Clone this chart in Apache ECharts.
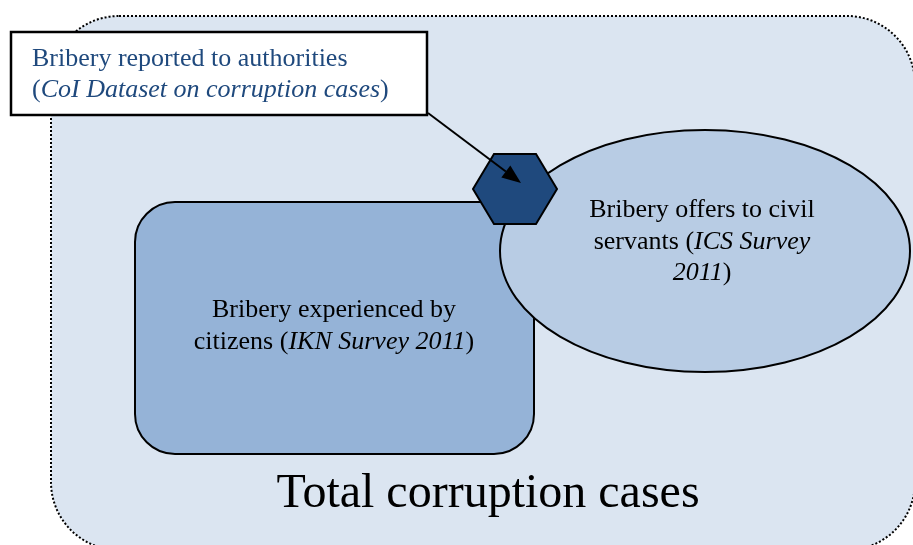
<!DOCTYPE html>
<html>
  <head>
    <meta charset="utf-8" />
    <title>Bribery measures</title>
    <script src="https://cdn.jsdelivr.net/npm/echarts@6.0.0/dist/echarts.min.js"></script>
  </head>
  <body style="margin:0">
    <div id="main" style="width: 913px;height:545px;"></div>
    <script type="text/javascript">
// labels of the diagram ({i|...} = italic part)
const totalLabel = ['Total corruption cases'];
const reportedLabel = ['Bribery reported to authorities', '({i|CoI Dataset on corruption cases})'];
const citizensLabel = ['Bribery experienced by', 'citizens ({i|IKN Survey 2011})'];
const servantsLabel = ['Bribery offers to civil', 'servants ({i|ICS Survey}', '{i|2011})'];

var chartDom = document.getElementById('main');
var myChart = echarts.init(chartDom);
var option;

var serif = '"Liberation Serif", "Times New Roman", serif';
var darkBlue = '#1f497d';

// hexagon
var hex = { cx: 515, cy: 189, rx: 42, ry: 35 };
var hexPts = [
  [hex.cx - hex.rx / 2, hex.cy - hex.ry],
  [hex.cx + hex.rx / 2, hex.cy - hex.ry],
  [hex.cx + hex.rx, hex.cy],
  [hex.cx + hex.rx / 2, hex.cy + hex.ry],
  [hex.cx - hex.rx / 2, hex.cy + hex.ry],
  [hex.cx - hex.rx, hex.cy]
];

// arrow from the text box to the hexagon
var from = [428, 113], tip = [521, 183];
var dx = tip[0] - from[0], dy = tip[1] - from[1];
var len = Math.sqrt(dx * dx + dy * dy);
var ux = dx / len, uy = dy / len;
var headLen = 19, headW = 7.5;
var bx = tip[0] - ux * headLen, by = tip[1] - uy * headLen;
var headPts = [
  tip,
  [bx - uy * headW, by + ux * headW],
  [bx + uy * headW, by - ux * headW]
];

function lines(arr) { return arr.join('\n'); }

option = {
  backgroundColor: '#ffffff',
  graphic: [
    {
      type: 'rect',
      shape: { x: 51, y: 16, width: 864, height: 534, r: 68 },
      style: { fill: '#dbe5f1', stroke: '#000', lineWidth: 2, lineDash: [2, 2] }
    },
    {
      type: 'rect',
      shape: { x: 135, y: 202, width: 399, height: 252, r: 40 },
      style: { fill: '#95b3d7', stroke: '#000', lineWidth: 2 }
    },
    {
      type: 'ellipse',
      shape: { cx: 705, cy: 251, rx: 205, ry: 121 },
      style: { fill: '#b8cce4', stroke: '#000', lineWidth: 2 }
    },
    {
      type: 'polygon',
      shape: { points: hexPts },
      style: { fill: darkBlue, stroke: '#000', lineWidth: 2 }
    },
    {
      type: 'rect',
      shape: { x: 11, y: 32, width: 416, height: 83 },
      style: { fill: '#fff', stroke: '#000', lineWidth: 2.5 }
    },
    {
      type: 'line',
      shape: { x1: from[0], y1: from[1], x2: bx, y2: by },
      style: { stroke: '#000', lineWidth: 2 }
    },
    {
      type: 'polygon',
      shape: { points: headPts },
      style: { fill: '#000' }
    },
    {
      type: 'text',
      x: 32, y: 75,
      style: {
        text: lines(reportedLabel), font: '26px ' + serif, fill: darkBlue,
        align: 'left', verticalAlign: 'middle', lineHeight: 31,
        rich: { i: { fontStyle: 'italic', fontFamily: serif, fontSize: 26, fill: darkBlue, lineHeight: 31 } }
      }
    },
    {
      type: 'text',
      x: 334, y: 326,
      style: {
        text: lines(citizensLabel), font: '26px ' + serif, fill: '#000',
        align: 'center', verticalAlign: 'middle', lineHeight: 32,
        rich: { i: { fontStyle: 'italic', fontFamily: serif, fontSize: 26, fill: '#000', lineHeight: 32 } }
      }
    },
    {
      type: 'text',
      x: 702, y: 242,
      style: {
        text: lines(servantsLabel), font: '26px ' + serif, fill: '#000',
        align: 'center', verticalAlign: 'middle', lineHeight: 31.5,
        rich: { i: { fontStyle: 'italic', fontFamily: serif, fontSize: 26, fill: '#000', lineHeight: 31.5 } }
      }
    },
    {
      type: 'text',
      x: 488, y: 494,
      style: {
        text: totalLabel[0], font: '48px ' + serif, fill: '#000',
        align: 'center', verticalAlign: 'middle'
      }
    }
  ]
};

option && myChart.setOption(option);
    </script>
  </body>
</html>
